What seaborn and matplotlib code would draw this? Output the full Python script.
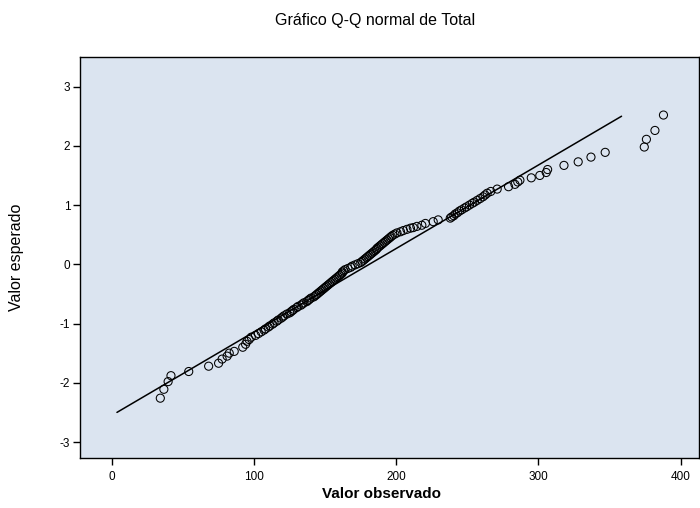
import matplotlib
matplotlib.use("Agg")
import matplotlib.pyplot as plt
import seaborn as sns
import numpy as np
import pandas as pd

# Observed totals (sorted) and their expected normal scores
observed = [
    34, 36.5, 39.5, 41.5, 54, 68, 75, 77.5, 81, 82.5, 86, 92, 94, 95, 96.5, 98, 101, 103,
    105, 107, 108, 110, 111, 113, 114, 116, 117, 119, 120, 121, 123, 125, 126, 127, 128,
    130, 131, 133, 134, 135, 137, 138, 139, 140, 142, 143,
    144, 145, 146, 147, 148, 149, 150, 151, 152, 153, 154, 155, 156, 157, 158, 159, 160,
    161, 162, 162, 163,
    164, 166, 168, 169, 171, 173, 175,
    176, 177, 178, 179, 180, 181, 182, 183, 184, 185, 186, 186.5,
    187.5, 188.5, 189.5, 190.5, 191.5, 192.5, 193.5, 194.5, 195.5,
    196.5, 197.5, 199, 200.5,
    203, 205, 207.5, 210, 212, 214.5,
    218, 220.5, 226, 229.5, 238,
    239, 240.5, 241.5, 243, 244.5, 246, 248, 249.5, 251.5, 253.5, 255, 257, 259, 261,
    262.5, 264,
    266.5, 271, 279, 283.5, 285.5, 287, 295, 301, 305.5, 306.5, 318, 328, 337, 347,
    374.5, 376, 382, 388,
]
expected = [
    -2.26, -2.11, -1.98, -1.88, -1.81, -1.72, -1.67, -1.60, -1.55, -1.50, -1.47, -1.40,
    -1.35, -1.30, -1.27, -1.23, -1.20, -1.17,
    -1.14, -1.11, -1.09, -1.06, -1.04, -1.01, -0.99, -0.96, -0.94, -0.91, -0.89, -0.87,
    -0.84, -0.82, -0.80, -0.78, -0.76, -0.73, -0.71, -0.69, -0.67, -0.65, -0.63, -0.61,
    -0.59, -0.57, -0.55, -0.53,
    -0.51, -0.49, -0.47, -0.45, -0.43, -0.41, -0.39, -0.37, -0.35, -0.33, -0.31, -0.29,
    -0.27, -0.25, -0.23, -0.21, -0.19, -0.17, -0.15, -0.13, -0.11,
    -0.09, -0.07, -0.05, -0.03, -0.01, 0.01, 0.03,
    0.05, 0.07, 0.09, 0.11, 0.13, 0.15, 0.17, 0.19, 0.21, 0.23, 0.25, 0.27,
    0.29, 0.31, 0.33, 0.35, 0.37, 0.39, 0.41, 0.43, 0.45,
    0.47, 0.49, 0.51, 0.53,
    0.55, 0.57, 0.59, 0.61, 0.62, 0.64,
    0.66, 0.69, 0.72, 0.75, 0.78,
    0.80, 0.82, 0.85, 0.87, 0.90, 0.92, 0.95, 0.97, 1.00, 1.03, 1.05, 1.08, 1.11, 1.14,
    1.17, 1.20,
    1.23, 1.27, 1.31, 1.35, 1.39, 1.42, 1.46, 1.50, 1.55, 1.60, 1.67, 1.73, 1.81, 1.89,
    1.98, 2.11, 2.26, 2.52,
]

# Reference line: expected = (observed - mean) / sd
line_mean = 181.0
line_sd = 71.0
line_z = [-2.5, 2.5]

x_ticks = [0, 100, 200, 300, 400]
y_ticks = [-3, -2, -1, 0, 1, 2, 3]

sns.set_theme(style="ticks")
plt.rcParams["font.family"] = ["Liberation Sans", "DejaVu Sans"]
plt.rcParams["text.color"] = "black"
plt.rcParams["axes.labelcolor"] = "black"
plt.rcParams["axes.unicode_minus"] = False

fig = plt.figure(figsize=(7.0, 5.08), dpi=100)
fig.patch.set_facecolor("white")
ax = fig.add_axes([80 / 700, 50 / 508, 619 / 700, 401 / 508])
ax.set_facecolor("#dbe4f0")

pts = pd.DataFrame({"Valor observado": observed, "Valor esperado": expected})
line_df = pd.DataFrame({
    "x": [line_mean + z * line_sd for z in line_z],
    "y": line_z,
})

sns.lineplot(data=line_df, x="x", y="y", ax=ax, color="black", linewidth=1.1,
             zorder=2)
sns.scatterplot(data=pts, x="Valor observado", y="Valor esperado", ax=ax,
                marker="o", s=34, facecolors="none", edgecolor="black",
                linewidth=0.75, zorder=3)

ax.set_xlim(-22.5, 413)
ax.set_ylim(-3.27, 3.5)
ax.set_xticks(x_ticks)
ax.set_yticks(y_ticks)
ax.tick_params(axis="both", direction="out", length=5, width=1, colors="black",
               labelcolor="black", labelsize=8.5)
ax.tick_params(axis="x", pad=4)
ax.tick_params(axis="y", pad=2)
for side in ["left", "right", "top", "bottom"]:
    ax.spines[side].set_visible(True)
    ax.spines[side].set_color("black")
    ax.spines[side].set_linewidth(1.0)

ax.set_xlabel("")
ax.set_ylabel("Valor esperado", fontsize=11.5, labelpad=26, color="black")
fig.text(381 / 700, (508 - 494) / 508, "Valor observado", fontsize=11,
         fontweight="bold", ha="center", va="center", color="black")
fig.text(375 / 700, (508 - 20) / 508, "Gráfico Q-Q normal de Total",
         fontsize=11.5, ha="center", va="center", color="black")

fig.savefig("out.png", dpi=100, facecolor="white")
